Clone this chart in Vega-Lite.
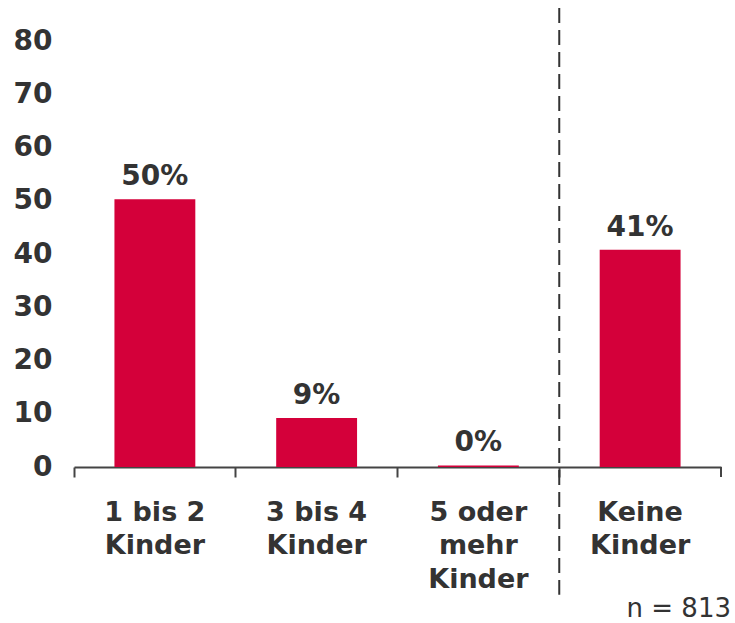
{
  "$schema": "https://vega.github.io/schema/vega-lite/v6.json",
  "width": 647,
  "height": 426,
  "padding": {"left": 13, "top": 6, "right": 0, "bottom": 5},
  "background": "white",
  "config": {
    "view": {"stroke": null},
    "font": "DejaVu Sans"
  },
  "datasets": {
    "bars": [
      {"cat": "1 bis 2|Kinder", "value": 50.3, "label": "50%"},
      {"cat": "3 bis 4|Kinder", "value": 9.2, "label": "9%"},
      {"cat": "5 oder|mehr|Kinder", "value": 0.3, "label": "0%"},
      {"cat": "Keine|Kinder", "value": 40.8, "label": "41%"}
    ],
    "divider": [{"cat": "Keine|Kinder", "top": 86.2, "bottom": -24}],
    "endtick": [{"cat": "Keine|Kinder", "y0": 0, "y1": -1.9}],
    "note": [{"cat": "Keine|Kinder", "y": -28.1, "text": "n = 813"}]
  },
  "layer": [
    {
      "data": {"name": "bars"},
      "mark": {"type": "bar", "color": "#D4003A", "width": {"band": 0.5}},
      "encoding": {
        "x": {
          "field": "cat", "type": "nominal", "sort": null,
          "scale": {"domain": ["1 bis 2|Kinder", "3 bis 4|Kinder", "5 oder|mehr|Kinder", "Keine|Kinder"], "paddingInner": 0, "paddingOuter": 0},
          "axis": {
            "title": null,
            "labelAngle": 0,
            "labelExpr": "split(datum.label, '|')",
            "labelFont": "DejaVu Sans",
            "labelFontSize": 27,
            "labelFontWeight": "bold",
            "labelColor": "#333333",
            "labelLineHeight": 33.5,
            "labelPadding": 22,
            "labelBaseline": "top",
            "bandPosition": 0,
            "tickSize": 10,
            "tickWidth": 2,
            "tickColor": "#444444",
            "domainColor": "#444444",
            "domainWidth": 2,
            "grid": false
          }
        },
        "y": {
          "field": "value", "type": "quantitative",
          "scale": {"domain": [0, 80], "nice": false},
          "axis": {
            "title": null,
            "values": [0, 10, 20, 30, 40, 50, 60, 70, 80],
            "labelFont": "DejaVu Sans",
            "labelFontSize": 28,
            "labelFontWeight": "bold",
            "labelColor": "#333333",
            "labelPadding": 22,
            "ticks": false,
            "domain": false,
            "grid": false
          }
        }
      }
    },
    {
      "data": {"name": "bars"},
      "mark": {"type": "text", "font": "DejaVu Sans", "fontSize": 28, "fontWeight": "bold", "color": "#333333", "baseline": "alphabetic", "dy": -14},
      "encoding": {
        "x": {"field": "cat", "type": "nominal", "sort": null},
        "y": {"field": "value", "type": "quantitative"},
        "text": {"field": "label"}
      }
    },
    {
      "data": {"name": "divider"},
      "mark": {"type": "rule", "color": "#333333", "strokeWidth": 2, "strokeDash": [15, 7]},
      "encoding": {
        "x": {"field": "cat", "type": "nominal", "bandPosition": 0},
        "y": {"field": "top", "type": "quantitative"},
        "y2": {"field": "bottom"}
      }
    },
    {
      "data": {"name": "endtick"},
      "mark": {"type": "rule", "color": "#444444", "strokeWidth": 2},
      "encoding": {
        "x": {"field": "cat", "type": "nominal", "bandPosition": 1},
        "y": {"field": "y0", "type": "quantitative"},
        "y2": {"field": "y1"}
      }
    },
    {
      "data": {"name": "note"},
      "mark": {"type": "text", "font": "DejaVu Sans", "fontSize": 26, "color": "#333333", "align": "right", "baseline": "alphabetic", "dx": 10},
      "encoding": {
        "x": {"field": "cat", "type": "nominal", "bandPosition": 1},
        "y": {"field": "y", "type": "quantitative"},
        "text": {"field": "text"}
      }
    }
  ]
}
